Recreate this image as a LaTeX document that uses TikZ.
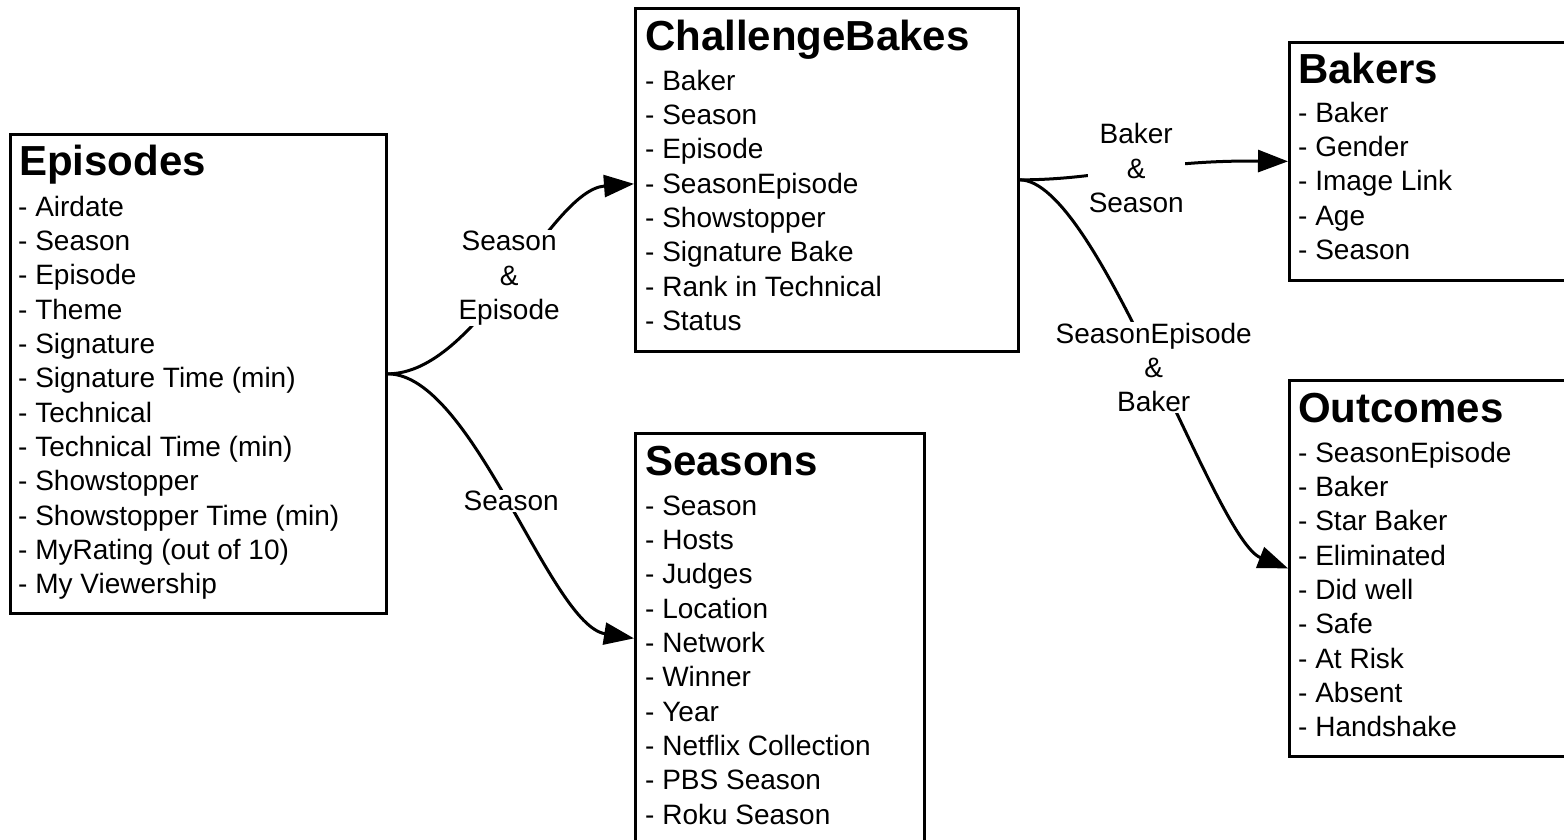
\documentclass[tikz,border=0pt]{standalone}
\usepackage{fontspec}
\setmainfont{Liberation Sans}
\usetikzlibrary{arrows.meta}
\newcommand\bodyfnt{\fontsize{28}{34.4}\selectfont}
\newcommand\titlefnt{\fontsize{42}{48}\selectfont\bfseries}
\begin{document}
\begin{tikzpicture}[x=1pt,y=-1pt,
  box/.style={draw=black,line width=2.7pt,inner sep=0pt,anchor=north west},
  item/.style={anchor=base west,inner sep=0pt,font=\bodyfnt},
  ttl/.style={anchor=base west,inner sep=0pt,font=\titlefnt},
  conn/.style={line width=3pt,-{Triangle[length=30pt,width=22pt]}},
  lbl/.style={align=center,fill=white,inner sep=1pt,font=\bodyfnt}]
\fill[white] (0,0) rectangle (1564,839);
\useasboundingbox (0,0) rectangle (1564,839);

% boxes
\node[box,minimum width=376pt,minimum height=479pt] (episodes) at (9,133) {};
\node[box,minimum width=383pt,minimum height=343pt] (cb) at (634,7) {};
\node[box,minimum width=289pt,minimum height=410pt] (seasons) at (634,432) {};
\node[box,minimum width=290pt,minimum height=238pt] (bakers) at (1288,41) {};
\node[box,minimum width=290pt,minimum height=376pt] (outcomes) at (1288,379) {};

% Episodes
\node[ttl] (eptitle) at (19,175) {Episodes};
\foreach \t [count=\i] in {Airdate,Season,Episode,Theme,Signature,Signature Time (min),Technical,Technical Time (min),Showstopper,Showstopper Time (min),MyRating (out of 10),My Viewership}
  \node[item] (ep\i) at (18,{216+34.36*(\i-1)}) {- \t};

% ChallengeBakes
\node[ttl] (cbtitle) at (645,50) {ChallengeBakes};
\foreach \t [count=\i] in {Baker,Season,Episode,SeasonEpisode,Showstopper,Signature Bake,Rank in Technical,Status}
  \node[item] (cb\i) at (645,{90+34.36*(\i-1)}) {- \t};

% Seasons
\node[ttl] (setitle) at (645,475) {Seasons};
\foreach \t [count=\i] in {Season,Hosts,Judges,Location,Network,Winner,Year,Netflix Collection,PBS Season,Roku Season}
  \node[item] (se\i) at (645,{515+34.36*(\i-1)}) {- \t};

% Bakers
\node[ttl] (batitle) at (1298,83) {Bakers};
\foreach \t [count=\i] in {Baker,Gender,Image Link,Age,Season}
  \node[item] (ba\i) at (1298,{122+34.36*(\i-1)}) {- \t};

% Outcomes
\node[ttl] (outitle) at (1298,422) {Outcomes};
\foreach \t [count=\i] in {SeasonEpisode,Baker,Star Baker,Eliminated,Did well,Safe,At Risk,Absent,Handshake}
  \node[item] (ou\i) at (1298,{462+34.36*(\i-1)}) {- \t};

% connectors
\draw[conn] (episodes.east) .. controls +(90,0) and (550,190) .. ([yshift=-4pt]cb.west)
  node[lbl,pos=0.5,xshift=-4pt,yshift=3pt] (l1) {Season\\\&\\Episode};
\draw[conn] (episodes.east) .. controls +(85,0) and (550,625) .. (seasons.west)
  node[lbl,pos=0.5] (l2) {Season};
\draw[conn] (cb.east) .. controls +(83,0) and (1150,160) .. (bakers.west)
  node[lbl,pos=0.5,xshift=3pt,yshift=2pt] (l3) {Baker\\\&\\Season};
\draw[conn] (cb.east) .. controls +(78,0) and (1215,540) .. (outcomes.west)
  node[lbl,pos=0.5,xshift=-2pt,yshift=-4pt] (l4) {SeasonEpisode\\\&\\Baker};
\end{tikzpicture}
\end{document}
